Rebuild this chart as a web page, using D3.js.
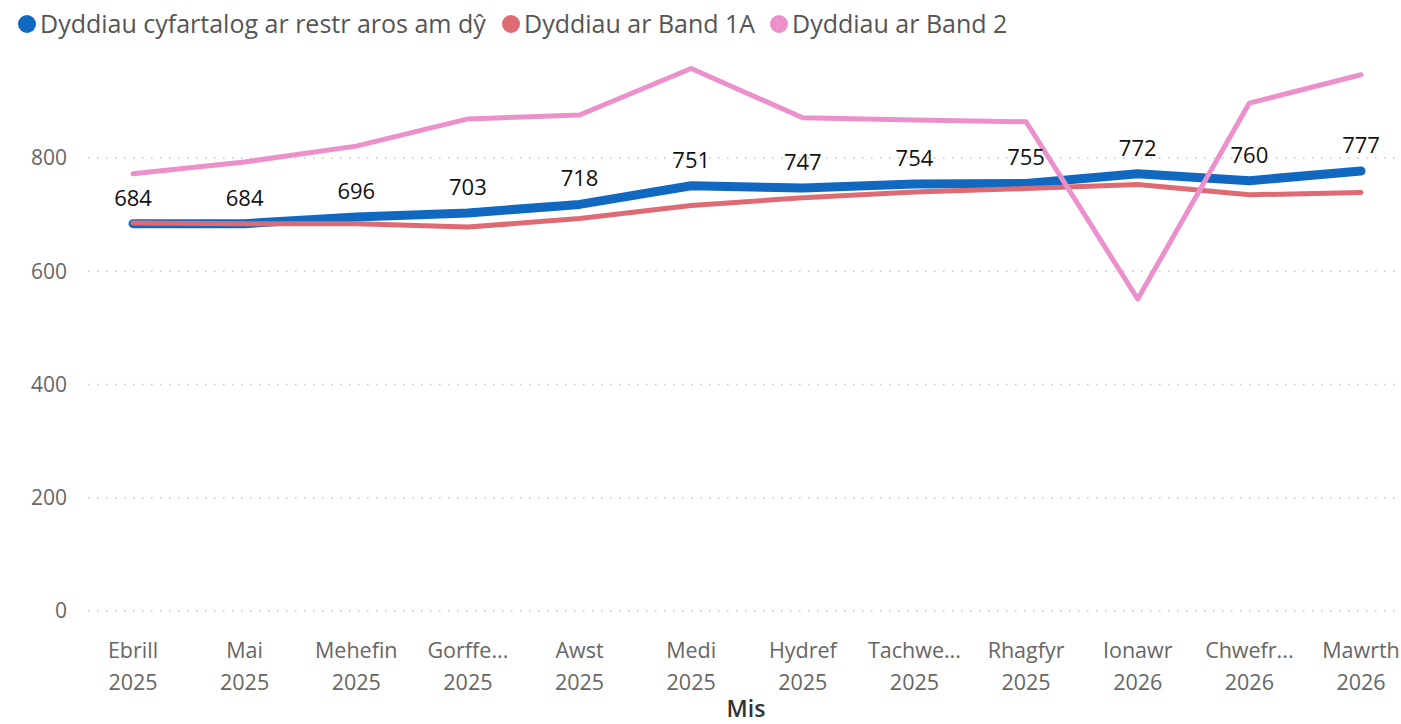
<!DOCTYPE html>
<meta charset="utf-8">
<style>
body { margin: 0; background: #fff; }
text { font-family: "Open Sans", "Noto Sans", sans-serif; }
</style>
<body>
<script src="https://cdn.jsdelivr.net/npm/d3@7"></script>
<script>

var months = ["Ebrill", "Mai", "Mehefin", "Gorffe...", "Awst", "Medi",
              "Hydref", "Tachwe...", "Rhagfyr", "Ionawr", "Chwefr...", "Mawrth"];
var years = ["2025", "2025", "2025", "2025", "2025", "2025",
             "2025", "2025", "2025", "2026", "2026", "2026"];

var avgDays = [684, 684, 696, 703, 718, 751, 747, 754, 755, 772, 760, 777];
var band1A  = [685, 684, 684, 678, 693, 716, 730, 740, 746, 753, 735, 739];
var band2   = [772, 793, 821, 869, 876, 958, 871, 867, 864, 551, 897, 947];

var yTicks = [0, 200, 400, 600, 800];

var seriesNames = ["Dyddiau cyfartalog ar restr aros am dŷ", "Dyddiau ar Band 1A", "Dyddiau ar Band 2"];
var colors = ["#1068C1", "#DE6B74", "#EC90CC"];

var width = 1401, height = 724;

var svg = d3.select("body").append("svg")
    .attr("width", width)
    .attr("height", height);

var x = d3.scalePoint()
    .domain(d3.range(months.length))
    .range([133, 1361]);

var y = d3.scaleLinear()
    .domain([0, 800])
    .range([611, 158]);

// gridlines
svg.append("g")
  .selectAll("line")
  .data(yTicks)
  .enter().append("line")
    .attr("x1", 88)
    .attr("x2", 1401)
    .attr("y1", function(d){ return y(d); })
    .attr("y2", function(d){ return y(d); })
    .attr("stroke", "#c8c8c8")
    .attr("stroke-width", 1.5)
    .attr("stroke-dasharray", "1.5,7.5");

// y axis labels
svg.append("g")
  .selectAll("text")
  .data(yTicks)
  .enter().append("text")
    .attr("x", 67)
    .attr("y", function(d){ return y(d); })
    .attr("dy", "0.35em")
    .attr("text-anchor", "end")
    .attr("fill", "#666")
    .style("font-size", "21px")
    .text(function(d){ return d; });

// x axis labels
var xl = svg.append("g")
  .selectAll("text")
  .data(months)
  .enter().append("text")
    .attr("text-anchor", "middle")
    .attr("fill", "#666")
    .style("font-size", "21.5px");
xl.append("tspan")
    .attr("x", function(d, i){ return x(i); })
    .attr("y", 658)
    .text(function(d){ return d; });
xl.append("tspan")
    .attr("x", function(d, i){ return x(i); })
    .attr("y", 690)
    .text(function(d, i){ return years[i]; });

svg.append("text")
    .attr("x", 746)
    .attr("y", 717)
    .attr("text-anchor", "middle")
    .attr("fill", "#333")
    .style("font-size", "23px")
    .style("font-weight", "600")
    .text("Mis");

var line = d3.line()
    .x(function(d, i){ return x(i); })
    .y(function(d){ return y(d); });

// blue underneath, then red, then pink
svg.append("path")
    .datum(avgDays)
    .attr("d", line)
    .attr("fill", "none")
    .attr("stroke", colors[0])
    .attr("stroke-width", 9)
    .attr("stroke-linejoin", "round")
    .attr("stroke-linecap", "round");

svg.append("path")
    .datum(band1A)
    .attr("d", line)
    .attr("fill", "none")
    .attr("stroke", colors[1])
    .attr("stroke-width", 5)
    .attr("stroke-linejoin", "round")
    .attr("stroke-linecap", "round");

svg.append("path")
    .datum(band2)
    .attr("d", line)
    .attr("fill", "none")
    .attr("stroke", colors[2])
    .attr("stroke-width", 5)
    .attr("stroke-linejoin", "round")
    .attr("stroke-linecap", "round");

// data labels
svg.append("g")
  .selectAll("text")
  .data(avgDays)
  .enter().append("text")
    .attr("x", function(d, i){ return x(i); })
    .attr("y", function(d){ return y(d) - 18; })
    .attr("text-anchor", "middle")
    .attr("fill", "#111")
    .style("font-size", "22px")
    .text(function(d){ return d; });

// legend
var legendX = [27, 511, 779];
var lg = svg.append("g")
  .selectAll("g")
  .data(seriesNames)
  .enter().append("g")
    .attr("transform", function(d, i){ return "translate(" + legendX[i] + ",24)"; });
lg.append("circle")
    .attr("r", 9)
    .attr("fill", function(d, i){ return colors[i]; });
lg.append("text")
    .attr("x", 13)
    .attr("dy", "0.35em")
    .attr("fill", "#555")
    .style("font-size", "25px")
    .text(function(d){ return d; });

</script>
</body>
